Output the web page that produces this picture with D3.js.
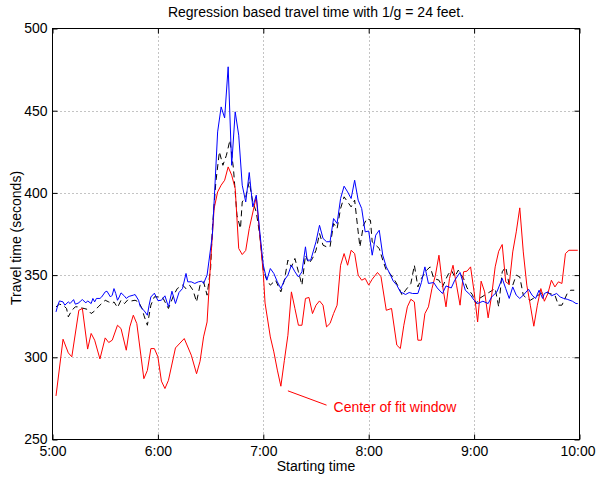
<!DOCTYPE html>
<html>
<head>
<meta charset="utf-8">
<script src="https://cdn.jsdelivr.net/npm/d3@7/dist/d3.min.js"></script>
<style>
  html, body { margin: 0; padding: 0; background: #fff; }
  svg text { font-family: "Liberation Sans", Arial, Helvetica, sans-serif; }
</style>
</head>
<body>
<svg id="chart" width="596" height="478"></svg>
<script>
// Travel time estimates, minutes after 5:00 and seconds.
const blueMinutes = [2,3,4,6,7,9,10,12,13,15,16,17,19,20,22,23,24,25,27,28,30,31,33,34,35,36,37,38,39,41,42,43,44,46,47,49,50,52,54,55,56,58,60,62,64,66,68,70,72,74,76,77,79,81,83,85,86,88,89,91,92,94,96,98,100,102,104,106,108,110,112,114,116,118,120,122,124,126,128,130,132,134,136,138,140,142,144,145,147,150,152,154,156,158,160,162,164,166,168,170,172,174,176,178,180,182,184,186,188,190,192,194,196,198,201,203,205,208,210,212,214,217,219,222,224,227,229,232,235,238,240,242,245,248,250,253,256,258,260,262,264,266,268,271,273,275,277,279,280,282,284,287,289,291,293,296,298,299];
const blueValues = [327.6,331.7,334.3,333.7,331.7,333.7,332.7,335.1,332.3,333.1,334.3,335.1,333.1,334.3,332.7,335.8,333.7,335.8,335.8,336.7,339.8,340.2,336.7,337.8,341.8,338.8,334.7,336.7,339.2,337.2,335.8,336.7,337.2,337.8,338.2,334.7,330.7,328.6,325.6,331.7,336.7,339,334.5,334.7,337.4,330.7,340.2,332.7,339.4,341.8,351,345.9,345.9,344.9,345.9,346.3,344.9,350,358,374.3,394.5,437.1,452.3,445.6,476.7,416.8,449.3,435.1,404.7,394.5,412.4,391.5,398.6,376.3,356,346.9,354,351,345.9,341.8,346.9,350,356,352,348.9,352,367.2,359.1,359.1,370.3,380.3,372.3,370.3,370.3,384.4,381.4,396.6,404.1,400.6,396.6,407.7,395.6,390.5,376.3,376.8,362.1,374.3,377.3,362.1,355,351,346.3,343.9,339.8,338.2,339.4,338.8,338.8,345.5,355,344.9,345.5,342.2,338.8,343.4,342.2,346.9,351.6,340.8,337.8,334.7,332.7,334.1,332.7,336.7,339.8,348,341.8,335.8,342.8,337.8,335.8,337.8,341.4,337.8,335.8,340.8,335.8,338.8,339.8,337.4,338.8,336.7,335.8,335.3,334.1,332.7,332.7];

const blackMinutes = [2,4,6,8,9,11,13,15,16,18,20,22,24,26,28,30,32,34,35,37,39,41,43,45,47,49,51,52,54,56,58,61,63,66,69,71,74,76,78,80,82,84,86,88,90,91,93,95,97,99,101,103,105,107,108,110,112,114,116,118,120,122,124,127,130,132,134,136,138,140,142,144,146,148,150,152,154,156,158,160,162,164,166,168,170,172,174,175,177,179,181,182,184,186,188,190,192,194,197,199,201,204,206,208,210,213,215,217,220,222,225,227,229,231,234,236,239,241,243,246,249,252,254,256,258,260,262,264,266,268,270,272,275,278,280,283,286,288,290,293,295,297];
const blackValues = [330.7,332.3,331.7,329.7,324.6,328.6,330.7,330.7,330.1,329.7,329.1,326.6,328.2,330.7,332.7,334.7,333.7,332.7,333.7,330.3,334.7,332.7,335.1,334.3,334.7,333.7,329.7,325.6,319.5,331.7,336.8,336.7,335.8,329.7,337.8,341.8,343.9,341.8,343.9,340.8,333.7,343.9,345.9,337.8,354,378.3,406.7,425,416.8,422.9,432.1,414.9,386.4,378.3,394.5,397.6,406.7,394.5,388.4,374.3,353,347,343.9,346.9,339.8,346.9,359.1,355,360.1,352,343.9,362.1,357.1,360.1,365.1,375.3,368.2,367.2,367.2,381.4,378.3,390.5,397.6,394.5,391.5,395.6,376.3,367.2,380.3,384.4,383.4,370.2,368.2,366.2,359.1,353,351,348.3,342.8,337.8,340.8,344.9,356,342.8,348,353,355,348,346.9,342.8,350,353,349,353,348,342.2,338.2,332.5,335.8,337.8,339.8,341.8,330.7,352,355,343.9,343.9,350,348.9,337.8,335.8,334.7,336.7,338.8,339.8,338.8,337.8,331.7,331.7,338.8,340.8,340.8];

const redMinutes = [2,6,9,11,15,17,20,22,24,27,30,32,34,37,39,42,44,46,48,52,54,56,58,60,62,64,66,70,75,79,82,84,86,88,90,92,94,96,98,100,102,104,106,108,110,112,116,118,120,121,124,126,128,130,132,134,136,138,140,142,144,146,148,150,152,154,156,158,160,162,164,166,168,170,172,174,176,178,180,182,185,187,190,193,196,198,200,202,204,206,208,210,212,214,216,218,220,222,224,226,228,230,232,234,236,238,240,242,244,246,248,250,252,254,256,258,260,262,264,266,268,270,272,274,276,278,280,282,284,286,288,290,292,294,299];
const redValues = [276.5,311,302.7,300.3,328.6,329.7,305,314.5,310.4,299,311.8,309,310.4,319.5,317.5,304.3,318.5,325.6,320.5,287,292,305.3,305.3,300.3,285.5,281,286,305.7,311.4,301.3,290,297.6,312.4,321.5,358,390.5,400.6,404.7,407.7,415.8,410.8,402.7,366.2,362.5,365,378.3,397.6,374.3,351,333,312.4,303.3,292.2,282.4,298.2,313.4,339.8,329.7,319.5,319.5,335.8,336.4,326.6,331.7,334.3,331.7,318.5,320.6,326.6,331.7,356,363.1,356,365.1,363.1,350,346.9,348,343.9,347.5,351.6,349,328.6,329.7,307.4,305.3,319.5,330.7,335.3,333.7,310.4,310.4,326.6,330.7,341.8,350,362.1,343.9,330.7,348,356,343.9,331.7,352,352.4,355,339.8,321.5,346.3,339.8,324,337.8,355,364.5,368.6,345.9,344.3,364.1,376.3,390.9,364.1,343.9,331.7,318.9,331.7,341.8,334.1,338.8,346.9,342.8,345.9,344.9,363.1,365.1,365.1];

const xTickMinutes = [0, 60, 120, 180, 240, 300];
const xTickLabels = ["5:00", "6:00", "7:00", "8:00", "9:00", "10:00"];
const yTicks = [250, 300, 350, 400, 450, 500];

const titleText = "Regression based travel time with 1/g = 24 feet.";
const xLabelText = "Starting time";
const yLabelText = "Travel time (seconds)";
const noteText = "Center of fit window";

const svg = d3.select("#chart");
const plotLeft = 52.5, plotRight = 579.5, plotTop = 28.5, plotBottom = 439.5;

const x = d3.scaleLinear().domain([0, 300]).range([plotLeft, plotRight]);
const y = d3.scaleLinear().domain([250, 500]).range([plotBottom, plotTop]);

// dotted grid
const grid = svg.append("g");
grid.selectAll("line.vx").data(xTickMinutes.slice(1, -1)).join("line")
  .attr("x1", d => Math.round(x(d)) + 0.5).attr("x2", d => Math.round(x(d)) + 0.5)
  .attr("y1", plotTop).attr("y2", plotBottom)
  .attr("stroke", "#888").attr("stroke-width", 1).attr("stroke-dasharray", "1,3");
grid.selectAll("line.hy").data(yTicks.slice(1, -1)).join("line")
  .attr("y1", d => Math.round(y(d)) + 0.5).attr("y2", d => Math.round(y(d)) + 0.5)
  .attr("x1", plotLeft).attr("x2", plotRight)
  .attr("stroke", "#888").attr("stroke-width", 1).attr("stroke-dasharray", "1,3");

// series
const line = d3.line().x(d => x(d[0])).y(d => y(d[1]));
const zip = (a, b) => a.map((t, i) => [t, b[i]]);

svg.append("path").datum(zip(blackMinutes, blackValues))
  .attr("d", line).attr("fill", "none").attr("stroke", "#000")
  .attr("stroke-width", 1).attr("stroke-dasharray", "6,4");
svg.append("path").datum(zip(redMinutes, redValues))
  .attr("d", line).attr("fill", "none").attr("stroke", "#ff0000").attr("stroke-width", 1);
svg.append("path").datum(zip(blueMinutes, blueValues))
  .attr("d", line).attr("fill", "none").attr("stroke", "#0000ff").attr("stroke-width", 1);

// axes with inward ticks on all four sides
const fontSize = 14;
const xBottom = d3.axisBottom(x).tickValues(xTickMinutes).tickFormat((d, i) => xTickLabels[i]).tickSizeInner(-5).tickSizeOuter(0).tickPadding(7);
const xTop = d3.axisTop(x).tickValues(xTickMinutes).tickFormat("").tickSizeInner(-5).tickSizeOuter(0);
const yLeft = d3.axisLeft(y).tickValues(yTicks).tickFormat(d3.format("d")).tickSizeInner(-5).tickSizeOuter(0).tickPadding(5);
const yRight = d3.axisRight(y).tickValues(yTicks).tickFormat("").tickSizeInner(-5).tickSizeOuter(0);

function styleAxis(g) {
  g.select(".domain").remove();
  g.selectAll("line").attr("stroke", "#000");
  g.selectAll("text").attr("fill", "#000").style("font-size", fontSize + "px");
}
const bottomAxis = svg.append("g").attr("transform", `translate(0,${plotBottom})`).call(xBottom).call(styleAxis);
// keep the last hour label inside the page edge
bottomAxis.selectAll(".tick text").filter((d, i, n) => i === n.length - 1)
  .attr("text-anchor", "end").attr("x", 595 - plotRight);
svg.append("g").attr("transform", `translate(0,${plotTop})`).call(xTop).call(styleAxis);
svg.append("g").attr("transform", `translate(${plotLeft},0)`).call(yLeft).call(styleAxis);
svg.append("g").attr("transform", `translate(${plotRight},0)`).call(yRight).call(styleAxis);

// axes box
svg.append("rect").attr("x", plotLeft).attr("y", plotTop)
  .attr("width", plotRight - plotLeft).attr("height", plotBottom - plotTop)
  .attr("fill", "none").attr("stroke", "#000").attr("stroke-width", 1);

// labels
svg.append("text").attr("x", (plotLeft + plotRight) / 2).attr("y", 17)
  .attr("text-anchor", "middle").style("font-size", fontSize + "px").text(titleText);
svg.append("text").attr("x", (plotLeft + plotRight) / 2).attr("y", 471)
  .attr("text-anchor", "middle").style("font-size", fontSize + "px").text(xLabelText);
svg.append("text").attr("transform", `translate(21,238) rotate(-90)`)
  .attr("text-anchor", "middle").style("font-size", fontSize + "px").text(yLabelText);

// annotation pointing at the fit-window dip
const noteFrom = [134, 279.6], noteTo = [156, 270.9];
svg.append("line")
  .attr("x1", x(noteFrom[0])).attr("y1", y(noteFrom[1]))
  .attr("x2", x(noteTo[0])).attr("y2", y(noteTo[1]))
  .attr("stroke", "#ff0000").attr("stroke-width", 1);
svg.append("text").attr("x", x(noteTo[0]) + 7).attr("y", y(noteTo[1]) + 7)
  .attr("fill", "#ff0000").style("font-size", fontSize + "px").text(noteText);
</script>
</body>
</html>
